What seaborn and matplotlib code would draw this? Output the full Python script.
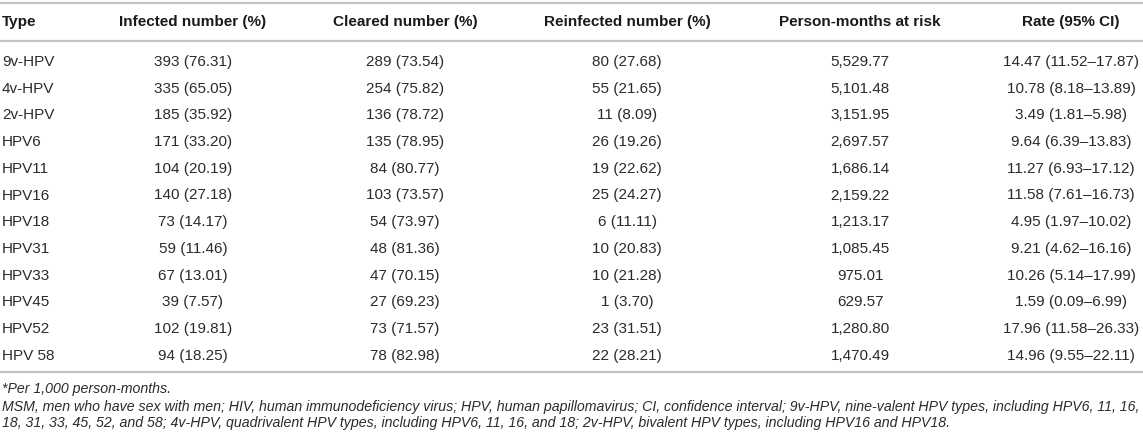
import matplotlib
matplotlib.use("Agg")
import matplotlib.pyplot as plt
import seaborn as sns

# ---------------- data ----------------
types = ["9v-HPV", "4v-HPV", "2v-HPV", "HPV6", "HPV11", "HPV16", "HPV18",
         "HPV31", "HPV33", "HPV45", "HPV52", "HPV 58"]
infected_n = [393, 335, 185, 171, 104, 140, 73, 59, 67, 39, 102, 94]
infected_pct = ["76.31", "65.05", "35.92", "33.20", "20.19", "27.18", "14.17",
                "11.46", "13.01", "7.57", "19.81", "18.25"]
cleared_n = [289, 254, 136, 135, 84, 103, 54, 48, 47, 27, 73, 78]
cleared_pct = ["73.54", "75.82", "78.72", "78.95", "80.77", "73.57", "73.97",
               "81.36", "70.15", "69.23", "71.57", "82.98"]
reinfected_n = [80, 55, 11, 26, 19, 25, 6, 10, 10, 1, 23, 22]
reinfected_pct = ["27.68", "21.65", "8.09", "19.26", "22.62", "24.27", "11.11",
                  "20.83", "21.28", "3.70", "31.51", "28.21"]
person_months = ["5,529.77", "5,101.48", "3,151.95", "2,697.57", "1,686.14",
                 "2,159.22", "1,213.17", "1,085.45", "975.01", "629.57",
                 "1,280.80", "1,470.49"]
rate = ["14.47", "10.78", "3.49", "9.64", "11.27", "11.58", "4.95", "9.21",
        "10.26", "1.59", "17.96", "14.96"]
rate_lo = ["11.52", "8.18", "1.81", "6.39", "6.93", "7.61", "1.97", "4.62",
           "5.14", "0.09", "11.58", "9.55"]
rate_hi = ["17.87", "13.89", "5.98", "13.83", "17.12", "16.73", "10.02",
           "16.16", "17.99", "6.99", "26.33", "22.11"]

headers = ["Type", "Infected number (%)", "Cleared number (%)",
           "Reinfected number (%)", "Person-months at risk", "Rate (95% CI)"]
footnotes = [
    "*Per 1,000 person-months.",
    "MSM, men who have sex with men; HIV, human immunodeficiency virus; HPV, human papillomavirus; "
    "CI, confidence interval; 9v-HPV, nine-valent HPV types, including HPV6, 11, 16,",
    "18, 31, 33, 45, 52, and 58; 4v-HPV, quadrivalent HPV types, including HPV6, 11, 16, and 18; "
    "2v-HPV, bivalent HPV types, including HPV16 and HPV18.",
]

# ---------------- layout ----------------
sns.set_theme(style="white")
plt.rcParams["font.family"] = ["Liberation Sans", "DejaVu Sans"]

W, H = 1143, 445
fig = plt.figure(figsize=(W / 100, H / 100), dpi=100)
ax = fig.add_axes([0, 0, 1, 1])
ax.set_xlim(0, W)
ax.set_ylim(H, 0)
ax.axis("off")

col_x = [2, 193, 405, 627, 860, 1071]
col_ha = ["left", "center", "center", "center", "center", "center"]
header_y = 22
row_y0, row_dy = 62, 26.7

line_color = "#c4c4c4"
for y in (3, 41, 372):
    ax.plot([0, W], [y, y], color=line_color, lw=1.6, solid_capstyle="butt")

hdr_color = "#1a1a1a"
body_color = "#2b2b2b"
for x, ha, h in zip(col_x, col_ha, headers):
    ax.text(x, header_y, h, ha=ha, va="center", fontsize=11,
            fontweight="bold", color=hdr_color)

for i, t in enumerate(types):
    y = row_y0 + i * row_dy
    cells = [
        t,
        f"{infected_n[i]} ({infected_pct[i]})",
        f"{cleared_n[i]} ({cleared_pct[i]})",
        f"{reinfected_n[i]} ({reinfected_pct[i]})",
        person_months[i],
        f"{rate[i]} ({rate_lo[i]}\u2013{rate_hi[i]})",
    ]
    for x, ha, c in zip(col_x, col_ha, cells):
        ax.text(x, y, c, ha=ha, va="center", fontsize=11, color=body_color)

# footnotes (italic); scale the long line to span the table width
fn_y = [389, 407, 423]
renderer = fig.canvas.get_renderer()
probe = ax.text(0, 0, footnotes[1], fontsize=10, style="italic")
wpx = probe.get_window_extent(renderer=renderer).width
probe.remove()
fn_size = 10 * 1138 / wpx
for y, s in zip(fn_y, footnotes):
    ax.text(2, y, s, ha="left", va="center", fontsize=fn_size,
            style="italic", color=body_color)

fig.savefig("out.png", dpi=100)
